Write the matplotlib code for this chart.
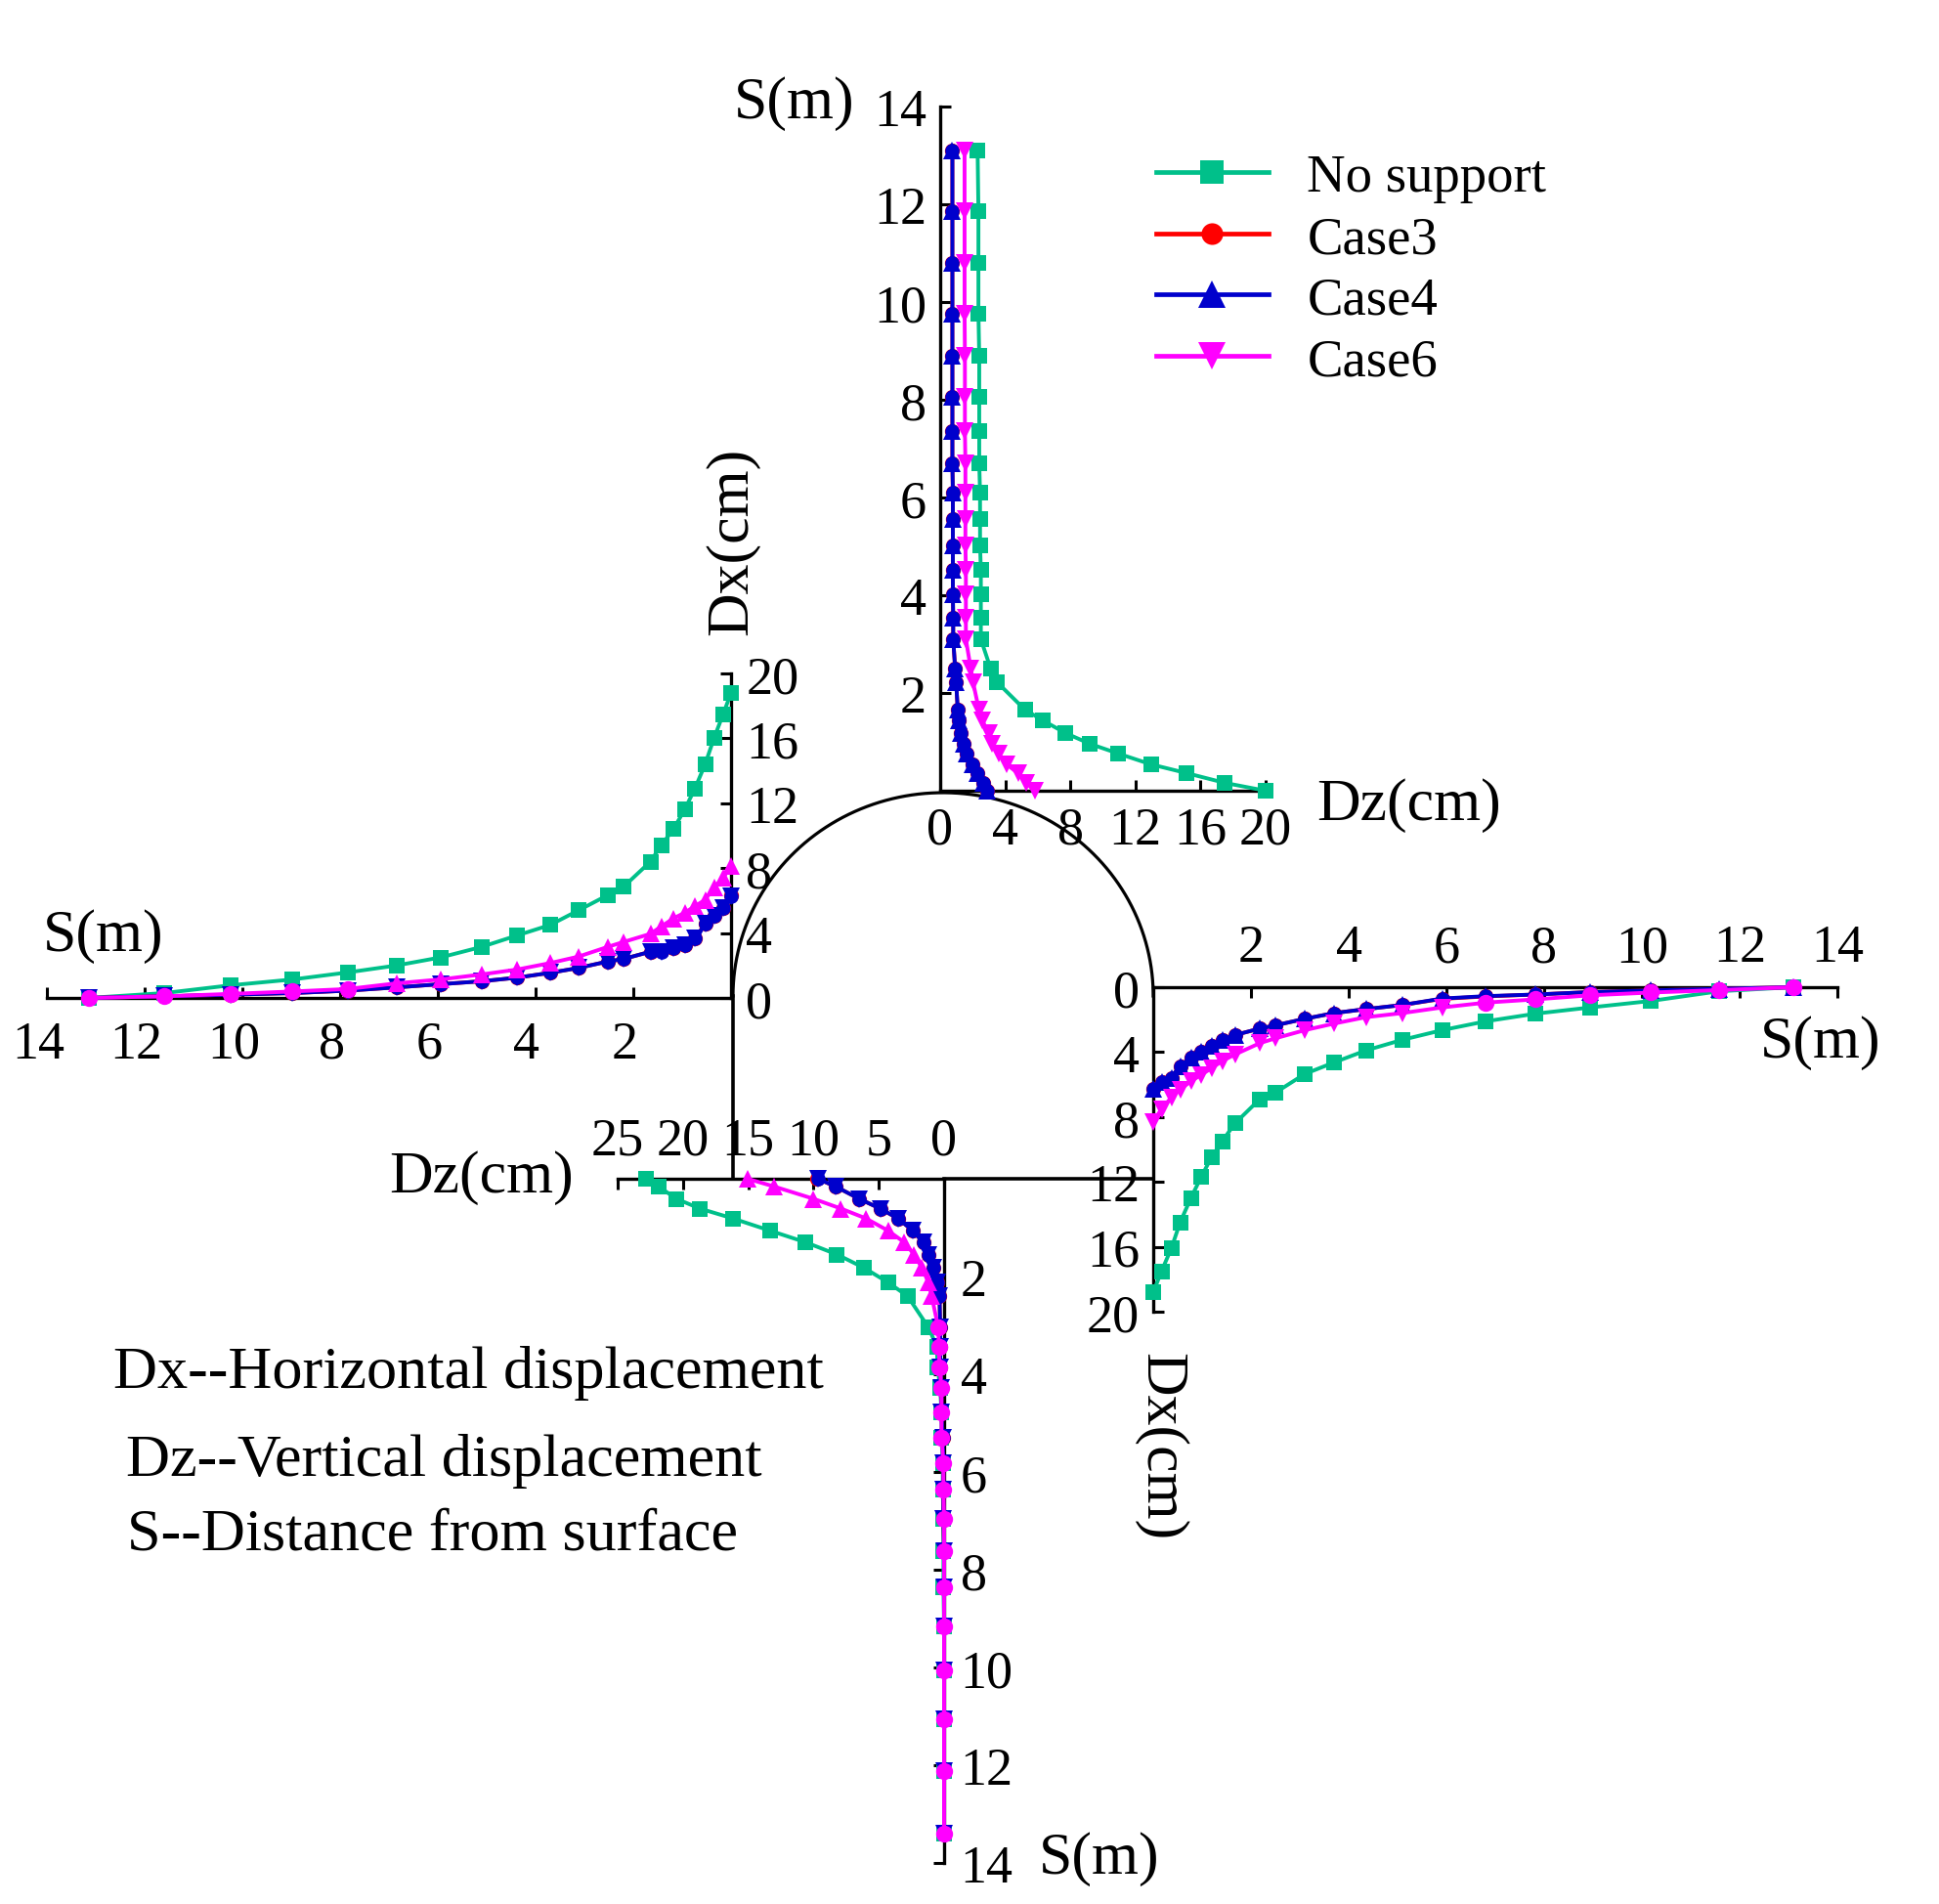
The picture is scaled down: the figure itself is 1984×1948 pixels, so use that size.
import numpy as np
import matplotlib
matplotlib.use("Agg")
import matplotlib.pyplot as plt
from matplotlib.transforms import ScaledTranslation

plt.rcParams['font.family'] = ['Liberation Serif', 'DejaVu Serif']

W, H = 1984, 1949
DPI = 100
FS = 39
LABEL_FS = 44.5

GREEN = '#00C08A'
RED = '#FF0000'
BLUE = '#0000CC'
MAGENTA = '#FF00FF'
SERIES_NAMES = ['No support', 'Case3', 'Case4', 'Case6']

# --- crown (top panel): S in m, Dz in cm
top_s = [13.1, 11.87, 10.8, 9.77, 8.9, 8.07, 7.37, 6.7, 6.1, 5.56, 5.02, 4.52, 4.02, 3.54, 3.1,
         2.5, 2.22, 1.66, 1.44, 1.18, 0.96, 0.76, 0.54, 0.36, 0.16, 0]
top_none = [2.3, 2.35, 2.35, 2.35, 2.4, 2.4, 2.4, 2.4, 2.45, 2.45, 2.45, 2.5, 2.5, 2.5, 2.5,
            3.1, 3.5, 5.2, 6.3, 7.7, 9.2, 10.95, 12.95, 15.15, 17.5, 20]
top_case3 = [0.75, 0.75, 0.75, 0.75, 0.75, 0.75, 0.75, 0.75, 0.78, 0.78, 0.78, 0.78, 0.78, 0.8, 0.8,
             0.92, 0.98, 1.08, 1.14, 1.28, 1.44, 1.64, 1.98, 2.28, 2.64, 2.9]
top_case4 = [0.75, 0.75, 0.75, 0.75, 0.75, 0.75, 0.75, 0.75, 0.78, 0.78, 0.78, 0.78, 0.78, 0.8, 0.8,
             0.92, 0.98, 1.08, 1.14, 1.28, 1.44, 1.64, 1.98, 2.28, 2.64, 2.88]
top_case6 = [1.5, 1.5, 1.5, 1.5, 1.52, 1.52, 1.52, 1.55, 1.55, 1.55, 1.55, 1.58, 1.58, 1.58, 1.58,
             1.88, 2.02, 2.38, 2.58, 2.98, 3.18, 3.58, 4.08, 4.78, 5.3, 5.8]

# --- left wall: S in m, Dx in cm
left_s = [13.15, 11.6, 10.24, 8.97, 7.85, 6.85, 5.94, 5.1, 4.38, 3.7, 3.12,
          2.52, 2.2, 1.65, 1.43, 1.18, 0.95, 0.74, 0.53, 0.35, 0.16, 0]
left_none = [0, 0.3, 0.78, 1.14, 1.57, 2.0, 2.5, 3.15, 3.85, 4.5, 5.4,
             6.34, 6.85, 8.4, 9.4, 10.4, 11.6, 12.9, 14.4, 16.0, 17.5, 18.8]
left_case3 = [0, 0.1, 0.2, 0.3, 0.45, 0.65, 0.85, 1.03, 1.25, 1.55, 1.85,
              2.25, 2.4, 2.85, 2.87, 3.05, 3.27, 3.67, 4.55, 5.05, 5.55, 6.3]
left_case4 = [0, 0.1, 0.2, 0.3, 0.45, 0.65, 0.85, 1.03, 1.25, 1.55, 1.85,
              2.25, 2.4, 2.85, 2.85, 3.05, 3.25, 3.65, 4.55, 5.05, 5.55, 6.25]
left_case6 = [0, 0.1, 0.25, 0.4, 0.55, 0.9, 1.14, 1.45, 1.75, 2.15, 2.55,
              3.15, 3.45, 3.95, 4.4, 4.9, 5.25, 5.65, 6.05, 6.8, 7.4, 8.15]

# --- right wall: S in m, Dx in cm
right_s = [13.1, 11.58, 10.18, 8.94, 7.83, 6.81, 5.91, 5.09, 4.35, 3.69, 3.1,
           2.5, 2.18, 1.67, 1.41, 1.19, 0.98, 0.77, 0.55, 0.37, 0.17, 0]
right_none = [0, 0.25, 0.85, 1.25, 1.63, 2.1, 2.65, 3.25, 3.9, 4.65, 5.35,
              6.5, 6.9, 8.4, 9.5, 10.5, 11.7, 13.0, 14.5, 16.1, 17.5, 18.8]
right_case3 = [0, 0.1, 0.2, 0.3, 0.45, 0.57, 0.72, 1.1, 1.35, 1.6, 1.95,
               2.35, 2.55, 2.95, 3.25, 3.6, 3.95, 4.35, 4.85, 5.6, 5.87, 6.28]
right_case4 = [0, 0.1, 0.2, 0.3, 0.45, 0.55, 0.7, 1.1, 1.35, 1.6, 1.95,
               2.35, 2.55, 2.95, 3.25, 3.6, 3.95, 4.35, 4.85, 5.6, 5.85, 6.25]
right_case6 = [0, 0.18, 0.33, 0.5, 0.75, 0.95, 1.25, 1.6, 1.85, 2.25, 2.65,
               3.15, 3.45, 4.15, 4.55, 5.0, 5.4, 5.8, 6.3, 6.8, 7.5, 8.3]

# --- floor (bottom panel): S in m, Dz in cm
bottom_s = [13.4, 12.12, 11.06, 10.06, 9.16, 8.36, 7.62, 6.96, 6.36, 5.82, 5.3, 4.78, 4.28, 3.85, 3.44, 3.04,
            2.4, 2.12, 1.82, 1.55, 1.3, 1.06, 0.81, 0.61, 0.41, 0.16, 0]
bottom_none = [0, 0, 0, 0, 0, 0.05, 0.05, 0.05, 0.1, 0.1, 0.2, 0.2, 0.3, 0.5, 0.55, 1.2,
               2.8, 4.3, 6.15, 8.2, 10.6, 13.35, 16.2, 18.7, 20.5, 21.86, 22.85]
bottom_case3 = [0, 0, 0, 0, 0, 0, 0, 0.05, 0.05, 0.05, 0.1, 0.2, 0.2, 0.3, 0.3, 0.3,
                0.35, 0.5, 0.85, 1.2, 1.6, 2.4, 3.55, 4.9, 6.5, 8.3, 9.7]
bottom_case4 = [0, 0, 0, 0, 0, 0, 0, 0.05, 0.05, 0.05, 0.1, 0.2, 0.2, 0.3, 0.3, 0.3,
                0.35, 0.5, 0.85, 1.2, 1.6, 2.4, 3.55, 4.9, 6.5, 8.3, 9.65]
bottom_case6 = [0, 0, 0, 0, 0, 0, 0, 0, 0.05, 0.05, 0.2, 0.2, 0.2, 0.35, 0.4, 0.45,
                0.95, 1.2, 1.7, 2.3, 3.05, 4.3, 6.0, 7.9, 10.0, 13.0, 15.05]

# tick label sets
s_ticks = [2, 4, 6, 8, 10, 12, 14]
top_x_ticks = [0, 4, 8, 12, 16, 20]
dx_ticks = [0, 4, 8, 12, 16, 20]
bottom_x_ticks = [0, 5, 10, 15, 20, 25]

fig = plt.figure(figsize=(W / DPI, H / DPI), dpi=DPI, facecolor='white')


def panel(x0, x1, y0, y1, xlim, ylim, vis, xt, yt):
    ax = fig.add_axes([x0 / W, 1 - y1 / H, (x1 - x0) / W, (y1 - y0) / H])
    ax.patch.set_alpha(0)
    ax.set_xlim(*xlim)
    ax.set_ylim(*ylim)
    for name, sp in ax.spines.items():
        sp.set_visible(name in vis)
        sp.set_linewidth(2.4)
    ax.set_xticks(xt)
    ax.set_yticks(yt)
    ax.tick_params(direction='in', length=8, width=2.2, labelsize=FS,
                   top='top' in vis, bottom='bottom' in vis,
                   left='left' in vis, right='right' in vis,
                   labeltop='top' in vis, labelbottom='bottom' in vis,
                   labelleft='left' in vis, labelright='right' in vis)
    return ax


def curves(ax, s, series, m4, m6, round_from=None, s_is_x=False):
    """Each series is a displacement list; s_is_x says S runs along the x axis."""
    none, c3, c4, c6 = series
    arr_s = np.array(s)

    def xy(v):
        return (s, v) if s_is_x else (v, s)

    kw = dict(clip_on=False, lw=2.8)
    h = []
    h += ax.plot(*xy(none), color=GREEN, marker='s', ms=12, mew=0, zorder=3, **kw)
    h += ax.plot(*xy(c3), color=RED, marker='o', ms=11, mew=0, zorder=4, **kw)
    # the Case4 triangle sits on a same-coloured disc in the reference
    ax.plot(*xy(c4), ls='none', color=BLUE, marker='o', ms=10.5, mew=0, zorder=5, clip_on=False)
    h += ax.plot(*xy(c4), color=BLUE, marker=m4, ms=13.5, mew=0, zorder=5, **kw)
    if round_from is None:
        h += ax.plot(*xy(c6), color=MAGENTA, marker=m6, ms=13.5, mew=0, zorder=6, **kw)
    else:
        near = arr_s < round_from
        h += ax.plot(*xy(c6), color=MAGENTA, marker=m6, ms=13.5, mew=0, zorder=6,
                     markevery=list(np.where(near)[0]), **kw)
        far_v = list(np.array(c6)[~near])
        far_s = list(arr_s[~near])
        fx, fy = (far_s, far_v) if s_is_x else (far_v, far_s)
        ax.plot(fx, fy, ls='none', color=MAGENTA, marker='o', ms=12.5, mew=0,
                zorder=6, clip_on=False)
    return h


# top panel: x = Dz, y = S
ax_top = panel(962, 1295, 110, 810, (0, 20), (0, 14), ('left', 'bottom'), top_x_ticks, s_ticks)
handles = curves(ax_top, top_s, (top_none, top_case3, top_case4, top_case6), '^', 'v')
ax_top.tick_params(axis='x', pad=11)
ax_top.tick_params(axis='y', pad=10)

# left panel: x = S (reversed), y = Dx
ax_left = panel(48, 748, 690, 1022, (14, 0), (0, 20), ('right', 'bottom'), s_ticks, dx_ticks)
curves(ax_left, left_s, (left_none, left_case3, left_case4, left_case6), 'v', '^', round_from=7.5, s_is_x=True)
ax_left.tick_params(axis='x', pad=16)
ax_left.tick_params(axis='y', pad=11)

# right panel: x = S, y = Dx (downwards)
ax_right = panel(1180, 1880, 1011, 1343, (0, 14), (20, 0), ('left', 'top'), s_ticks, dx_ticks)
curves(ax_right, right_s, (right_none, right_case3, right_case4, right_case6), '^', 'v', round_from=6.5, s_is_x=True)
ax_right.tick_params(axis='x', pad=10.5)
ax_right.tick_params(axis='y', pad=10)

# bottom panel: x = Dz (reversed), y = S (downwards)
ax_bottom = panel(632, 966, 1207, 1907, (25, 0), (14, 0), ('right', 'top'), bottom_x_ticks, s_ticks)
curves(ax_bottom, bottom_s, (bottom_none, bottom_case3, bottom_case4, bottom_case6), 'v', '^', round_from=3.0)
ax_bottom.tick_params(axis='x', pad=10)
ax_bottom.tick_params(axis='y', pad=12)

# left panel's S labels sit a little left of their ticks
offset = ScaledTranslation(-9 / DPI, 0, fig.dpi_scale_trans)
for lab in ax_left.get_xticklabels():
    lab.set_transform(lab.get_transform() + offset)

# overlay in pixel units for the tunnel outline and free text
ov = fig.add_axes([0, 0, 1, 1], zorder=-1)
ov.set_xlim(0, W)
ov.set_ylim(H, 0)
ov.axis('off')

theta = np.linspace(np.pi, 0, 200)
ov.plot(965 + 215 * np.cos(theta), 1020 - 208 * np.sin(theta), color='black', lw=2.3)
ov.plot([750, 750], [1020, 1207], color='black', lw=2.6)
ov.plot([966, 1180], [1207, 1207], color='black', lw=2.6)

ov2 = fig.add_axes([0, 0, 1, 1], zorder=10)
ov2.patch.set_alpha(0)
ov2.set_xlim(0, W)
ov2.set_ylim(H, 0)
ov2.axis('off')

for (x, y, s, rot) in [(813, 106, 'S(m)', 0), (1442, 824, 'Dz(cm)', 0), (749, 554, 'Dx(cm)', 90),
                       (106, 958, 'S(m)', 0), (1863, 1067, 'S(m)', 0), (493, 1205, 'Dz(cm)', 0),
                       (1187, 1480, 'Dx(cm)', 270), (1125, 1902, 'S(m)', 0)]:
    ov2.text(x, y, s, fontsize=LABEL_FS, ha='center', va='center', rotation=rot)

for (x, y, s) in [(116, 1405, 'Dx--Horizontal displacement'),
                  (129, 1495, 'Dz--Vertical displacement'),
                  (130, 1571, 'S--Distance from surface')]:
    ov2.text(x, y, s, fontsize=44.8, ha='left', va='center')

leg = ov2.legend(handles, SERIES_NAMES, loc='upper left', bbox_to_anchor=(1183 / W, 1 - 158 / H),
                 frameon=False, fontsize=FS + 0.4, handlelength=2.1, handletextpad=0.72,
                 labelspacing=0.22, borderpad=0, borderaxespad=0, numpoints=1, markerscale=1.45)
for line in leg.get_lines():
    line.set_linewidth(3.4)

fig.savefig('out.png', dpi=DPI)
